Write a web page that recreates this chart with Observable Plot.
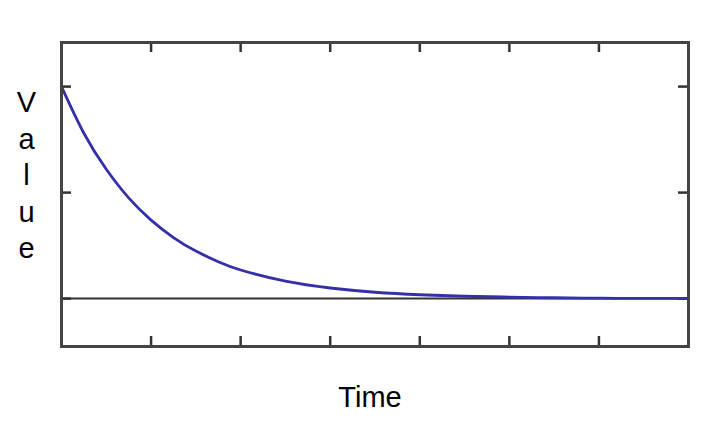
<!DOCTYPE html>
<html>
<head>
<meta charset="utf-8">
<script src="https://cdn.jsdelivr.net/npm/d3@7"></script>
<script src="https://cdn.jsdelivr.net/npm/@observablehq/plot@0.6"></script>
<style>
  html, body { margin: 0; padding: 0; background: #fff; }
  #chart svg { display: block; }
</style>
</head>
<body>
<div id="chart"></div>
<script>
// Data
const time  = [0, 0.25, 0.5, 0.75, 1, 1.25, 1.5, 1.75, 2, 2.5, 3, 3.5, 4, 4.5, 5, 5.5, 6, 6.5, 7];
const value = [1, 0.78, 0.61, 0.475, 0.37, 0.288, 0.224, 0.174, 0.135, 0.082, 0.05, 0.03, 0.018, 0.011, 0.007, 0.004, 0.002, 0.001, 0.001];
const xTicks = [0, 1, 2, 3, 4, 5, 6, 7];
const yTicks = [0, 0.5, 1];
const xLabel = "Time";
const yLabel = "V\na\nl\nu\ne";

const series = time.map((t, i) => ({ t, v: value[i] }));

const W = 712, H = 436;
const mL = 61, mR = 24, mT = 42, mB = 90;
const fw = W - mL - mR, fh = H - mT - mB;
const tick = 10;
const dark = "#333";

const chart = Plot.plot({
  width: W,
  height: H,
  marginLeft: mL,
  marginRight: mR,
  marginTop: mT,
  marginBottom: mB,
  style: { fontFamily: "Liberation Sans, Arial, sans-serif", background: "#fff", overflow: "visible" },
  x: { domain: [0, 7], axis: null },
  y: { domain: [-0.226, 1.208], axis: null },
  marks: [
    Plot.ruleX(xTicks, { x: d => d, insetBottom: fh - tick, stroke: dark, strokeWidth: 2.5 }),
    Plot.ruleX(xTicks, { x: d => d, insetTop: fh - tick, stroke: dark, strokeWidth: 2.5 }),
    Plot.ruleY(yTicks, { y: d => d, insetRight: fw - tick, stroke: dark, strokeWidth: 2.5 }),
    Plot.ruleY(yTicks, { y: d => d, insetLeft: fw - tick, stroke: dark, strokeWidth: 2.5 }),
    Plot.ruleY([0], { stroke: dark, strokeWidth: 2 }),
    Plot.line(series, { x: "t", y: "v", stroke: "#3530a8", strokeWidth: 2.8, curve: "natural" }),
    Plot.frame({ stroke: "#444", strokeWidth: 3 }),
    Plot.text([xLabel], { text: d => d, frameAnchor: "bottom", dx: -5, dy: 51, fontSize: 29, fill: "#000", textAnchor: "middle", lineAnchor: "middle" }),
    Plot.text([yLabel], { text: d => d, frameAnchor: "left", dx: -35, dy: -21, fontSize: 29, fill: "#000", textAnchor: "middle", lineAnchor: "middle", lineHeight: 1.26 })
  ]
});
document.getElementById("chart").appendChild(chart);
</script>
</body>
</html>
